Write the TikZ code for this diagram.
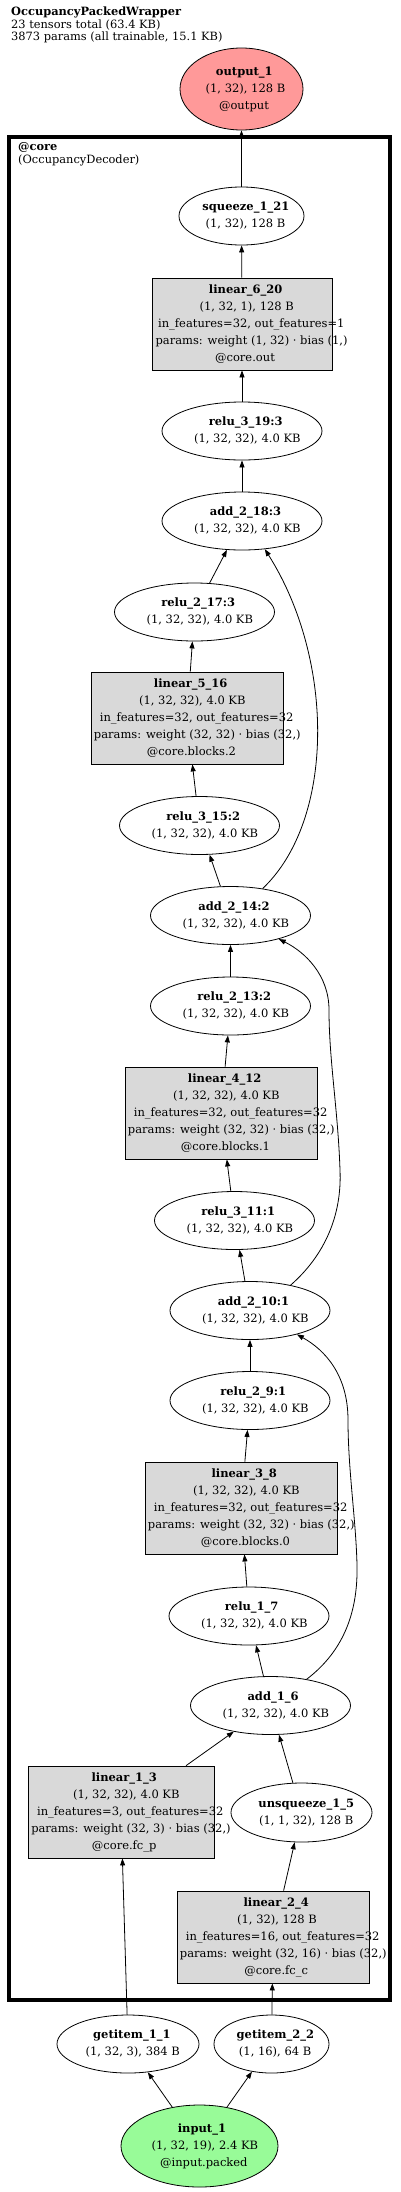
\documentclass[tikz,border=0pt]{standalone}
\usepackage{fontspec}
\setmainfont{DejaVu Serif}
\usetikzlibrary{shapes.geometric,arrows.meta}
\definecolor{boxfill}{HTML}{D9D9D9}
\definecolor{outfill}{HTML}{FF9999}
\definecolor{infill}{HTML}{98FB98}
\newcommand\nfont{\fontsize{11.5}{17}\selectfont}
\newcommand\gl[1]{\makebox[0.9\width][l]{#1}}
\tikzset{
  op/.style={ellipse, draw, line width=0.8pt, inner sep=0pt, align=center, font=\nfont, minimum width=160pt, minimum height=58pt},
  lin/.style={rectangle, draw, line width=0.8pt, fill=boxfill, inner sep=0pt, align=center, font=\nfont, minimum width=192pt, minimum height=92pt},
  edge/.style={-{Triangle[length=7pt,width=5pt]}, line width=0.8pt},
  ttl/.style={anchor=base west, inner sep=0pt, font=\fontsize{11.4}{12.5}\selectfont}
}
\begin{document}
\begin{tikzpicture}[x=1pt,y=-1pt]
\useasboundingbox (0,0) rectangle (400,2192);
% title
\node[ttl] (t1) at (11,16) {\textbf{OccupancyPackedWrapper}};
\node[ttl] (t2) at (11,28.5) {23 tensors total (63.4 KB)};
\node[ttl] (t3) at (11,41) {3873 params (all trainable, 15.1 KB)};
% cluster
\node[draw, line width=4pt, inner sep=0pt, minimum width=381pt, minimum height=1863pt] (core) at (199.5,1068.5) {};
\node[ttl] (c1) at (18,150) {\textbf{@core}};
\node[ttl] (c2) at (18,163) {(OccupancyDecoder)};
% nodes
\node[op, fill=outfill, minimum width=123pt, minimum height=82pt] (out) at (241.5,89) {\gl{\textbf{output\_1}}\\\gl{(1, 32), 128 B}\\\gl{@output}};
\node[op, minimum width=125pt] (sq) at (241.5,216) {\gl{\textbf{squeeze\_1\_21}}\\\gl{(1, 32), 128 B}};
\node[lin, minimum width=180pt] (l620) at (242,324) {\gl{\textbf{linear\_6\_20}}\\\gl{(1, 32, 1), 128 B}\\\gl{in\_features=32, out\_features=1}\\\gl{params: weight (1, 32) · bias (1,)}\\\gl{@core.out}};
\node[op] (r319) at (242,431) {\gl{\textbf{relu\_3\_19:3}}\\\gl{(1, 32, 32), 4.0 KB}};
\node[op] (a218) at (242,521) {\gl{\textbf{add\_2\_18:3}}\\\gl{(1, 32, 32), 4.0 KB}};
\node[op] (r217) at (194.5,612) {\gl{\textbf{relu\_2\_17:3}}\\\gl{(1, 32, 32), 4.0 KB}};
\node[lin] (l516) at (187,718) {\gl{\textbf{linear\_5\_16}}\\\gl{(1, 32, 32), 4.0 KB}\\\gl{in\_features=32, out\_features=32}\\\gl{params: weight (32, 32) · bias (32,)}\\\gl{@core.blocks.2}};
\node[op] (r315) at (199.5,825.5) {\gl{\textbf{relu\_3\_15:2}}\\\gl{(1, 32, 32), 4.0 KB}};
\node[op] (a214) at (230.5,915.5) {\gl{\textbf{add\_2\_14:2}}\\\gl{(1, 32, 32), 4.0 KB}};
\node[op] (r213) at (230.5,1006) {\gl{\textbf{relu\_2\_13:2}}\\\gl{(1, 32, 32), 4.0 KB}};
\node[lin] (l412) at (221,1113) {\gl{\textbf{linear\_4\_12}}\\\gl{(1, 32, 32), 4.0 KB}\\\gl{in\_features=32, out\_features=32}\\\gl{params: weight (32, 32) · bias (32,)}\\\gl{@core.blocks.1}};
\node[op] (r311) at (234.5,1220.5) {\gl{\textbf{relu\_3\_11:1}}\\\gl{(1, 32, 32), 4.0 KB}};
\node[op] (a210) at (250,1310.5) {\gl{\textbf{add\_2\_10:1}}\\\gl{(1, 32, 32), 4.0 KB}};
\node[op] (r29) at (250,1400.5) {\gl{\textbf{relu\_2\_9:1}}\\\gl{(1, 32, 32), 4.0 KB}};
\node[lin] (l38) at (241,1508) {\gl{\textbf{linear\_3\_8}}\\\gl{(1, 32, 32), 4.0 KB}\\\gl{in\_features=32, out\_features=32}\\\gl{params: weight (32, 32) · bias (32,)}\\\gl{@core.blocks.0}};
\node[op] (r17) at (249,1616) {\gl{\textbf{relu\_1\_7}}\\\gl{(1, 32, 32), 4.0 KB}};
\node[op] (a16) at (270.5,1705.5) {\gl{\textbf{add\_1\_6}}\\\gl{(1, 32, 32), 4.0 KB}};
\node[lin, minimum width=186pt] (l13) at (121,1812) {\gl{\textbf{linear\_1\_3}}\\\gl{(1, 32, 32), 4.0 KB}\\\gl{in\_features=3, out\_features=32}\\\gl{params: weight (32, 3) · bias (32,)}\\\gl{@core.fc\_p}};
\node[op, minimum width=141pt, minimum height=59pt] (u15) at (301.5,1812.5) {\gl{\textbf{unsqueeze\_1\_5}}\\\gl{(1, 1, 32), 128 B}};
\node[lin] (l24) at (273,1937) {\gl{\textbf{linear\_2\_4}}\\\gl{(1, 32), 128 B}\\\gl{in\_features=16, out\_features=32}\\\gl{params: weight (32, 16) · bias (32,)}\\\gl{@core.fc\_c}};
\node[op, minimum width=142pt] (g11) at (128,2044) {\gl{\textbf{getitem\_1\_1}}\\\gl{(1, 32, 3), 384 B}};
\node[op, minimum width=115pt] (g22) at (271.5,2044) {\gl{\textbf{getitem\_2\_2}}\\\gl{(1, 16), 64 B}};
\node[op, fill=infill, minimum width=157pt, minimum height=82pt] (in) at (199.5,2146) {\gl{\textbf{input\_1}}\\\gl{(1, 32, 19), 2.4 KB}\\\gl{@input.packed}};
% edges
\draw[edge] (sq) -- (out);
\draw[edge] (l620) -- (sq);
\draw[edge] (r319) -- (l620);
\draw[edge] (a218) -- (r319);
\draw[edge] (r217) -- (a218);
\draw[edge] (l516) -- (r217);
\draw[edge] (r315) -- (l516);
\draw[edge] (a214) -- (r315);
\draw[edge] (a214.40) .. controls (335,820) and (335,660) .. (a218.-51);
\draw[edge] (r213) -- (a214);
\draw[edge] (l412) -- (r213);
\draw[edge] (r311) -- (l412);
\draw[edge] (a210) -- (r311);
\draw[edge] (a210.32) .. controls (325,1255) and (342,1215) .. (340,1170) .. controls (338,1110) and (329,1060) .. (329,1010) .. controls (329,975) and (305,952) .. (a214.-26);
\draw[edge] (r29) -- (a210);
\draw[edge] (l38) -- (r29);
\draw[edge] (r17) -- (l38);
\draw[edge] (a16) -- (r17);
\draw[edge] (a16.36) .. controls (345,1650) and (358,1610) .. (357,1565) .. controls (356,1520) and (348,1470) .. (348,1420) .. controls (348,1375) and (325,1350) .. (a210.-27);
\draw[edge] (l13) -- (a16);
\draw[edge] (u15) -- (a16);
\draw[edge] (l24) -- (u15);
\draw[edge] (g11) -- (l13);
\draw[edge] (g22) -- (l24);
\draw[edge] (in) -- (g11);
\draw[edge] (in) -- (g22);
\end{tikzpicture}
\end{document}
